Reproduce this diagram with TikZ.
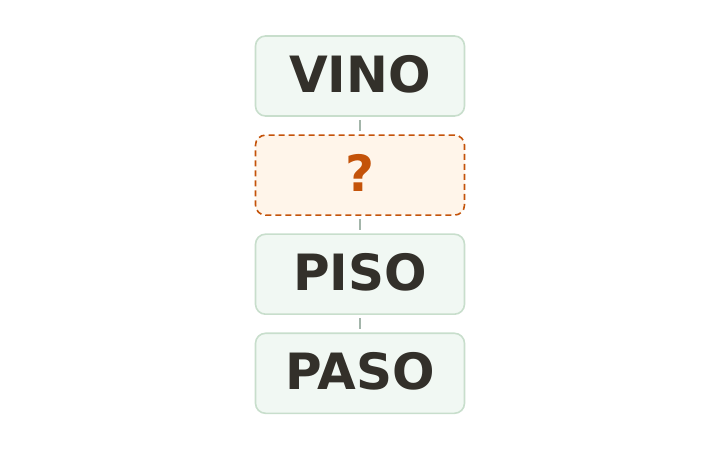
\documentclass[tikz,border=0pt]{standalone}
\usepackage{fontspec}
\setmainfont{DejaVu Sans}
\usetikzlibrary{positioning}

\definecolor{boxfill}{HTML}{F1F8F3}
\definecolor{boxdraw}{HTML}{C8DECC}
\definecolor{boxtext}{HTML}{33302A}
\definecolor{askfill}{HTML}{FFF5EA}
\definecolor{askdraw}{HTML}{C4530A}
\definecolor{linkgray}{HTML}{A3B5AA}

\begin{document}
\begin{tikzpicture}[node distance=17.5pt,
    every node/.style={font=\fontsize{50}{54}\selectfont\bfseries},
    word/.style={rectangle, draw=boxdraw, fill=boxfill, text=boxtext, line width=1.6pt, rounded corners=10pt, align=center, minimum width=209pt, minimum height=80pt, inner sep=0pt, text depth=5pt},
    ask/.style={word, draw=askdraw, fill=askfill, text=askdraw, dashed, dash pattern=on 6pt off 4pt},
    link/.style={draw=linkgray, line width=1.8pt, shorten <=3pt, shorten >=3pt}]

\useasboundingbox (0,0) rectangle (720pt,450pt);

% Word ladder
\node[word] (vino) at (360pt,374pt) {VINO};
\node[ask, below=of vino] (missing) {?};
\node[word, below=of missing] (piso) {PISO};
\node[word, below=of piso] (paso) {PASO};

% Links
\draw [link] (vino) -- (missing);
\draw [link] (missing) -- (piso);
\draw [link] (piso) -- (paso);

\end{tikzpicture}
\end{document}
